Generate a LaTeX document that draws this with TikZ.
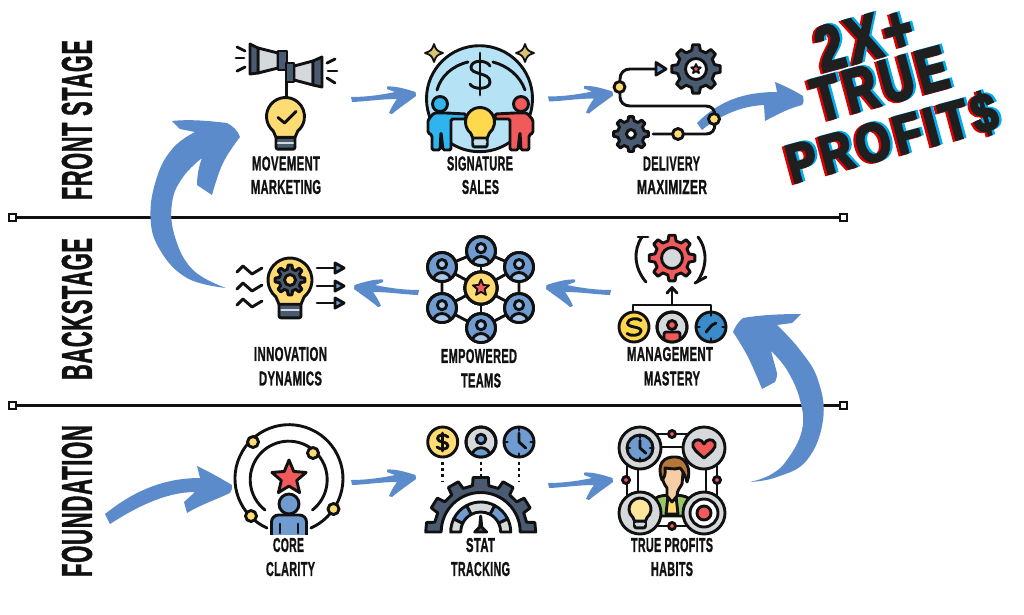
\documentclass[tikz,border=0pt]{standalone}
\usepackage{fontspec}
\usepackage{graphicx}
\setmainfont{Liberation Sans}
\newfontfamily\heavy[FakeBold=5,LetterSpace=10]{Liberation Sans Bold}
\newfontfamily\labf[FakeBold=1.5,LetterSpace=3]{Liberation Sans Bold}
\definecolor{inkc}{HTML}{111111}
\definecolor{brushc}{HTML}{5B8BCB}
\definecolor{yel}{HTML}{FFDC73}
\definecolor{yelb}{HTML}{FFD84D}
\definecolor{blu}{HTML}{6F9BD1}
\definecolor{lblu}{HTML}{A9C8EA}
\definecolor{slate}{HTML}{4A5A70}
\definecolor{gry}{HTML}{D5D9DC}
\definecolor{rd}{HTML}{F05A5A}
\definecolor{sky}{HTML}{B6E2F6}
\definecolor{sblue}{HTML}{2FB4EF}
\definecolor{dblue}{HTML}{3A8BC9}
\definecolor{brn}{HTML}{B5763A}
\definecolor{peach}{HTML}{F7CDA6}
\definecolor{grn}{HTML}{9CC56A}
\tikzset{
  ink/.style={draw=inkc,line width=2.9pt,line join=round,line cap=round},
  thinink/.style={draw=inkc,line width=1.8pt,line join=round,line cap=round},
  brush/.style={fill=brushc,draw=none},
  lab/.style={inner sep=0pt,outer sep=0pt,text=inkc},
  sq/.style={draw=inkc,fill=white,line width=2pt,minimum size=7pt,inner sep=0pt,rectangle},
  rule/.style={draw=inkc,line width=2.2pt},
}
\newcommand\lbl[5]{\node[lab] (#1) at (#2,#3) {\resizebox{#4pt}{14pt}{\labf #5}};}
\newcommand\side[4]{\node[lab,rotate=90] (#1) at (77,#2) {\resizebox{#3pt}{30pt}{\labf #4}};}
\newcommand\bigt[6]{%
  \node[lab,rotate=15,text=red!85!black] (#1r) at (#2-2.5,#3+1) {\resizebox{#4pt}{#5pt}{\heavy #6}};
  \node[lab,rotate=15,text=cyan] (#1c) at (#2+2.5,#3-1) {\resizebox{#4pt}{#5pt}{\heavy #6}};
  \node[lab,rotate=15,text=black!88] (#1) at (#2,#3) {\resizebox{#4pt}{#5pt}{\heavy #6}};}
\newcommand\smallarrow[4]{%
  \begin{scope}[shift={(#2,#3)},xscale=#4]
    \coordinate (#1s) at (0,-1);
    \coordinate (#1t) at (64.5,-6);
    \fill[brush] (#1s) .. controls (15,-1) and (30,-3) .. (44,-6) -- (36,-9) -- (36,-11.5)
      .. controls (45,-12) and (55,-9) .. (#1t) -- (65,-2) .. controls (57,4) and (48,10) .. (41,16)
      -- (38,15) .. controls (40,10) and (43,5) .. (46,1) .. controls (30,1) and (15,3.5) .. (1,4) -- cycle;
  \end{scope}}
\newcommand\cog[6]{%
  \begin{scope}[shift={(#1,#2)}]
    \draw[ink,fill=#5] (-#6*.3:#4) \foreach \a in {0,#6,...,359} { -- (\a-#6*.3:#4) -- (\a-#6*.17:#3) -- (\a+#6*.17:#3) -- (\a+#6*.3:#4) } -- cycle;
  \end{scope}}
\newcommand\starp[5][ink]{%
  \begin{scope}[shift={(#2,#3)}]
    \draw[#1,fill=#5] (-90:#4) -- (-54:{#4*.45}) -- (-18:#4) -- (18:{#4*.45}) -- (54:#4) -- (90:{#4*.45}) -- (126:#4) -- (162:{#4*.45}) -- (198:#4) -- (234:{#4*.45}) -- cycle;
  \end{scope}}
\newcommand\bulb[5]{%
  \begin{scope}[shift={(#1,#2)}]
    \draw[ink,fill=#5,rounded corners=2pt] ({-#3*.5},{#3*1.05}) rectangle ({#3*.5},{#3*1.72});
    \draw[thinink,draw=gry] ({-#3*.4},{#3*1.38}) -- ({#3*.4},{#3*1.38});
    \draw[ink,fill=#4] (130:#3) arc[start angle=130,end angle=410,radius=#3] -- ({#3*.5},{#3*1.1}) -- ({-#3*.5},{#3*1.1}) -- cycle;
  \end{scope}}
\newcommand\bust[5]{%
  \begin{scope}[shift={(#1,#2)}]
    \draw[ink,fill=#4] (0,0) circle[radius=#3];
    \begin{scope}
      \clip (0,0) circle[radius=#3];
      \draw[ink,fill=#5] (0,{#3*.98}) ellipse[x radius={#3*.62},y radius={#3*.6}];
    \end{scope}
    \draw[ink,fill=#5] (0,{-#3*.2}) circle[radius={#3*.32}];
    \draw[ink] (0,0) circle[radius=#3];
  \end{scope}}
\newcommand\clockc[4]{%
  \begin{scope}[shift={(#1,#2)}]
    \draw[ink,fill=#4] (0,0) circle[radius=#3];
    \foreach \a in {0,90,180,270} \draw[ink] (\a:#3) -- (\a:{#3*.78});
    \draw[ink] (0,{-#3*.6}) -- (0,0) -- ({#3*.45},{#3*.4});
  \end{scope}}
\begin{document}
\begin{tikzpicture}[x=1pt,y=-1pt]
\useasboundingbox (0,0) rectangle (1024,614);
\fill[white] (0,0) rectangle (1024,614);
% rules
\node[sq] (ra) at (12,217.5) {};
\node[sq] (rb) at (843,217.5) {};
\node[sq] (rc) at (12,405.5) {};
\node[sq] (rd) at (843,405.5) {};
\draw[rule] (ra) -- (rb);
\draw[rule] (rc) -- (rd);
% side labels
\side{fs}{120}{160}{FRONT STAGE}
\side{bs}{309}{142}{BACKSTAGE}
\side{fd}{501}{152}{FOUNDATION}
% big arrows
\coordinate (bl1s) at (226,288);
\coordinate (bl1t) at (240,137);
\fill[brush] plot[smooth,tension=.7] coordinates {(bl1s) (187,278) (160,250) (150.5,217) (157,177) (173,148) (195,132)}
  -- (180,129) -- (172,121) .. controls (190,119) and (210,121) .. (227,123) .. controls (233,126) and (238,131) .. (bl1t)
  -- plot[smooth,tension=.7] coordinates {(bl1t) (223,163) (212,195)}
  -- (197,185) .. controls (197,175) and (199,166) .. (202,158)
  -- plot[smooth,tension=.7] coordinates {(202,158) (183,177) (172,203) (175,237) (193,270) (bl1s)} -- cycle;
\coordinate (bl2s) at (750,482);
\coordinate (bl2t) at (733,332);
\fill[brush] plot[smooth,tension=.7] coordinates {(bl2s) (777,477) (807,460) (823,420) (818,380) (800,350) (777,325)}
  -- (792,323) -- (801,314) .. controls (780,314) and (760,315) .. (743,318) .. controls (738,322) and (735,327) .. (bl2t)
  -- plot[smooth,tension=.7] coordinates {(bl2t) (748,357) (762,389)}
  -- (775,382) .. controls (777,378) and (777,375) .. (777,373) -- (771,351)
  -- plot[smooth,tension=.7] coordinates {(771,351) (787,370) (800,400) (802,430) (787,460) (770,475) (bl2s)} -- cycle;
\coordinate (bl3s) at (105,514);
\coordinate (bl3t) at (232,485);
\fill[brush] (bl3s) -- (110,524) .. controls (135,508) and (165,492) .. (195,492) -- (184,502) -- (187,513)
  .. controls (200,505) and (215,500) .. (230,493) .. controls (232,491) and (232,488) .. (bl3t)
  .. controls (220,478) and (208,471) .. (197,466) -- (200,478) .. controls (165,478) and (135,490) .. (bl3s) -- cycle;
\coordinate (bl4s) at (697,123);
\coordinate (bl4t) at (803,96);
\fill[brush] (bl4s) -- (702,130) .. controls (720,115) and (742,106) .. (764,105) -- (765,121)
  .. controls (778,114) and (790,108) .. (802,105) .. controls (804,103) and (804,99) .. (bl4t)
  .. controls (795,91) and (785,86) .. (775,82) -- (777,92) .. controls (745,92) and (720,100) .. (bl4s) -- cycle;
\smallarrow{sa}{351}{98}{1}
\smallarrow{sb}{548}{97.5}{1}
\smallarrow{sc}{351}{481}{1}
\smallarrow{sd}{548}{484}{1}
\smallarrow{se}{419}{291}{-1}
\smallarrow{sf}{611}{291}{-1}
% ------------- Movement marketing icon
\draw[ink] (286.5,80) -- (286.5,98);
\bulb{285.5}{116.5}{19}{yel}{slate}
\draw[ink] (278,117.5) -- (284.5,123) -- (296,111.5);
\draw[ink,fill=gry] (258,48) -- (278,53) -- (278,68) -- (258,73) -- cycle;
\draw[ink,fill=slate] (250,44) -- (258,48) -- (258,73) -- (250,74) -- cycle;
\draw[ink,fill=slate] (278,51) rectangle (287,70);
\draw[ink,fill=gry] (294,66) -- (313,61) -- (313,85) -- (294,80) -- cycle;
\draw[ink,fill=slate] (286,63) rectangle (294,82);
\draw[ink,fill=slate] (313,61) -- (322,57) -- (322,87) -- (313,85) -- cycle;
\foreach \a/\b/\c/\d in {237/47/245/51,236/58/244/58,237/71/245/67,327/63/335/59,328/71/337/71,327/78/335/83}
  \draw[ink] (\a,\b) -- (\c,\d);
% ------------- Signature sales icon
\draw[ink,fill=sky] (479.5,98.7) circle[radius=53];
\draw[ink] (437,90) .. controls (441,76) and (452,66) .. (468,62);
\draw[ink] (525,90) .. controls (520,76) and (508,66) .. (493,62);
\draw[ink] (480,53) -- (480,95);
\draw[ink] (490,66) .. controls (487,60) and (472,59) .. (471,67) .. controls (470,75) and (490,72) .. (490,82) .. controls (490,90) and (473,90) .. (470,84);
\draw[ink,fill=sblue,rounded corners=1.5pt] (434,113) -- (447,113) -- (466,114) -- (466,119) -- (451,119) -- (451,150) -- (443,150) -- (441,132) -- (440,150) -- (432,150) -- (432,135) -- (428,133) -- (428,120) -- cycle;
\draw[ink,fill=sblue] (440,104) circle[radius=7.5];
\begin{scope}[shift={(961,0)},xscale=-1]
  \draw[ink,fill=rd,rounded corners=1.5pt] (434,113) -- (447,113) -- (466,114) -- (466,119) -- (451,119) -- (451,150) -- (443,150) -- (441,132) -- (440,150) -- (432,150) -- (432,135) -- (428,133) -- (428,120) -- cycle;
  \draw[ink,fill=rd] (440,104) circle[radius=7.5];
\end{scope}
\bulb{480}{122}{14.5}{yelb}{sky}
\foreach \a/\b in {434/53,525/53}
  \draw[thinink,fill=yel!80!slate] (\a,\b-9) .. controls (\a+2,\b-3) and (\a+3,\b-2) .. (\a+9,\b) .. controls (\a+3,\b+2) and (\a+2,\b+3) .. (\a,\b+9) .. controls (\a-2,\b+3) and (\a-3,\b+2) .. (\a-9,\b) .. controls (\a-3,\b-2) and (\a-2,\b-3) .. (\a,\b-9);
% ------------- Delivery maximizer icon
\draw[ink] (658,69) -- (630,69) .. controls (624,69) and (620,73) .. (620,79) -- (620,97) .. controls (620,102) and (624,106) .. (630,106) -- (706,106) .. controls (712,106) and (715,110) .. (715,116) -- (715,124) .. controls (715,130) and (712,134) .. (706,134) -- (653,134);
\draw[ink,fill=blu] (656,62.5) -- (666,69) -- (656,75) -- cycle;
\foreach \a/\b in {619.5/87,714/119,678/134}
  \draw[ink,fill=yel] (\a,\b) circle[radius=5.5];
\cog{696}{69}{24.5}{19}{slate}{45}
\draw[ink,fill=white] (696,69) circle[radius=10.5];
\starp[thinink]{696}{69}{5}{rd}
\cog{631}{134}{17.5}{13.5}{slate}{45}
\draw[ink,fill=white] (631,134) circle[radius=4.5];
% ------------- Innovation dynamics icon
\foreach \d in {0,17,33}
  \draw[ink] (237,272+\d) -- (243,266+\d) -- (252,274+\d) -- (262,268+\d);
\bulb{290}{280}{22}{yel}{slate}
\cog{290}{280}{15}{11}{slate}{45}
\draw[ink,fill=yel] (290,280) circle[radius=5.5];
\foreach \d in {268,286,303} {
  \draw[ink] (317,\d) -- (334,\d);
  \draw[ink,fill=blu] (335,\d-5) -- (344,\d) -- (335,\d+5) -- cycle;
}
% ------------- Empowered teams icon
\foreach \a/\b in {481/251,519/267,519/308,481/328,442/308,442/267}
  \draw[ink] (481,288) -- (\a,\b);
\draw[ink] (481,251) -- (519,267) -- (519,308) -- (481,328) -- (442,308) -- (442,267) -- cycle;
\foreach \a/\b in {481/251,519/267,519/308,481/328,442/308,442/267}
  \bust{\a}{\b}{14.5}{blu}{lblu}
\draw[ink,fill=yel] (481,288) circle[radius=16];
\starp[thinink]{481}{288}{8.5}{rd}
% ------------- Management mastery icon
\cog{672}{258}{23}{17.5}{rd}{45}
\draw[ink,fill=gry] (672,258) circle[radius=10.5];
\draw[ink] (642,237) .. controls (633,250) and (634,268) .. (646,282);
\draw[ink] (698,237) .. controls (708,250) and (707,268) .. (697,282);
\draw[ink] (638,237) -- (648,237);
\draw[ink] (695,283) -- (706,277);
\draw[ink] (672,305) -- (672,288);
\draw[ink] (667,293) -- (672,287.5) -- (677,293);
\draw[ink] (633,312) -- (633,305) -- (711,305) -- (711,312);
\draw[ink,fill=yelb] (634,327) circle[radius=15];
\draw[ink] (641,320.5) .. controls (638,317.5) and (628,318) .. (627.5,323) .. controls (627.5,328) and (641,326) .. (641,331) .. controls (641,336) and (630,336.5) .. (627,333.5);
\draw[ink,fill=gry] (672,327) circle[radius=15];
\begin{scope}
  \clip (672,327) circle[radius=15];
  \draw[ink,fill=rd,rounded corners=2pt] (664,345) -- (664,332) -- (680,332) -- (680,345) -- cycle;
\end{scope}
\draw[ink,fill=rd] (672,325) circle[radius=4.5];
\draw[ink] (672,327) circle[radius=15];
\draw[ink,fill=dblue] (711,327) circle[radius=15];
\foreach \a in {0,90,180,270} \draw[ink] (711,327) ++(\a:15) -- ++(\a:-3.5);
\draw[ink] (706,332) -- (712,325) -- (716,323);
% ------------- Core clarity icon
\draw[ink] (267,528) arc[start angle=114,end angle=426,radius=54];
\draw[ink] (265,510) arc[start angle=128,end angle=412,radius=38.5];
\foreach \a/\b in {253/442,333.5/509,251/516,313/453}
  \draw[ink,fill=yel] (\a,\b) circle[radius=5.5];
\starp{289}{478}{18}{rd}
\begin{scope}
  \clip (260,500) rectangle (320,534);
  \draw[ink,fill=blu,rounded corners=7pt] (271.5,545) -- (271.5,515) -- (306.5,515) -- (306.5,545) -- cycle;
\end{scope}
\draw[ink] (280,524) -- (280,533);
\draw[ink] (298,524) -- (298,533);
\draw[ink,fill=blu] (289,504) circle[radius=10];
% ------------- Stat tracking icon
\draw[ink,fill=yel] (442.7,442) circle[radius=15];
\draw[ink] (442.7,433) -- (442.7,451);
\draw[ink] (448,437) .. controls (445,434) and (437.5,434) .. (437.5,438.5) .. controls (437.5,443) and (448,441) .. (448,445.5) .. controls (448,450) and (440,450) .. (437,447);
\bust{481}{442}{15}{gry}{blu}
\clockc{519}{442}{15}{blu}
\foreach \a in {442.7,481,519}
  \draw[draw=inkc,line width=2.8pt,dash pattern=on 3pt off 3.2pt] (\a,462) -- (\a,481);
\begin{scope}[shift={(480.7,532)}]
  \draw[ink,fill=slate] (-180:55) -- (-170:55)  -- (-168:47)
    -- (-156:47) -- (-154:55) -- (-142:55) -- (-140:47) -- (-128:47) -- (-126:55) -- (-114:55) -- (-112:47) -- (-100:47) -- (-98:55) -- (-82:55) -- (-80:47) -- (-68:47) -- (-66:55) -- (-54:55) -- (-52:47) -- (-40:47) -- (-38:55) -- (-26:55) -- (-24:47) -- (-12:47) -- (-10:55) -- (0:55) -- (0:39.5)
    arc[start angle=0,end angle=-180,radius=39.5] -- cycle;
  \foreach \s/\e/\c in {-180/-154/gry,-154/-118/blu,-118/-62/gry,-62/-26/blu,-26/0/gry}
    \draw[ink,fill=\c] (\s:30) arc[start angle=\s,end angle=\e,radius=30] -- (\e:20) arc[start angle=\e,end angle=\s,radius=20] -- cycle;
  \draw[ink,fill=slate] (-6,0) -- (-1,-5) -- (0,-16) -- (1,-5) -- (6,0) -- cycle;
\end{scope}
% ------------- True profits icon
\draw[ink] (640,434) -- (704,434);
\draw[ink] (640,447) -- (704,447);
\draw[ink] (640,526) -- (704,526);
\draw[ink] (640,513) -- (704,513);
\draw[ink] (627,448) -- (627,513);
\draw[ink] (638,448) -- (638,513);
\draw[ink] (717,448) -- (717,513);
\draw[ink] (706,448) -- (706,513);
\fill[white] (645,452) rectangle (699,509);
% person
\draw[ink,fill=grn] (656,516) -- (656,498) .. controls (660,494) and (684,494) .. (688,498) -- (688,516) -- cycle;
\draw[ink,fill=yel] (668,496) -- (676,496) -- (678,514) -- (666,514) -- cycle;
\draw[ink,fill=peach] (662,462) -- (684,462) -- (682,484) .. controls (680,488) and (677,490) .. (677,496) -- (672,502) -- (667,496) -- (667,488) .. controls (664,484) and (662,480) .. (662,474) -- cycle;
\draw[ink,fill=brn] (662,480) .. controls (656,464) and (664,456) .. (676,457) .. controls (686,457) and (692,470) .. (687,482) .. controls (685,474) and (682,470) .. (680,468) .. controls (674,470) and (668,468) .. (665,468) .. controls (666,474) and (664,478) .. (662,480) -- cycle;
\foreach \a/\b in {640/448,704/448,640/513,704/513}
  \draw[ink,fill=gry] (\a,\b) circle[radius=21];
\clockc{640}{448}{13}{blu}
\begin{scope}[shift={(704,448)}]
  \draw[ink,fill=rd] (0,10) .. controls (-6,5) and (-13,0) .. (-11,-5) .. controls (-9,-10) and (-2,-9) .. (0,-4) .. controls (2,-9) and (9,-10) .. (11,-5) .. controls (13,0) and (6,5) .. (0,10) -- cycle;
\end{scope}
\bulb{640}{509}{11}{yel!70!white}{gry}
\draw[ink,fill=white] (704,513) circle[radius=14];
\draw[ink,fill=rd] (704,513) circle[radius=7];
\foreach \a/\b in {672/434,626/480,717/480,672/526}
  \draw[ink,fill=rd] (\a,\b) circle[radius=3.5];
% ------------- labels
\lbl{l1a}{286}{163.5}{68}{MOVEMENT}
\lbl{l1b}{286}{187}{70}{MARKETING}
\lbl{l2a}{480}{163.5}{66}{SIGNATURE}
\lbl{l2b}{480.5}{187}{37}{SALES}
\lbl{l3a}{671.5}{163.5}{57}{DELIVERY}
\lbl{l3b}{672}{187}{70}{MAXIMIZER}
\lbl{l4a}{290.5}{354}{73}{INNOVATION}
\lbl{l4b}{290.5}{378.5}{63}{DYNAMICS}
\lbl{l5a}{479}{356}{76}{EMPOWERED}
\lbl{l5b}{481}{380.5}{40}{TEAMS}
\lbl{l6a}{670}{354}{86}{MANAGEMENT}
\lbl{l6b}{672}{378.5}{56}{MASTERY}
\lbl{l7a}{288.5}{545}{31}{CORE}
\lbl{l7b}{290.5}{569}{49}{CLARITY}
\lbl{l8a}{480.5}{545}{29}{STAT}
\lbl{l8b}{480.5}{569}{59}{TRACKING}
\lbl{l9a}{672}{545}{82}{TRUE PROFITS}
\lbl{l9b}{672}{569}{42}{HABITS}
% ------------- headline
\bigt{ha}{864}{38}{98}{44}{2X+}
\bigt{hb}{880}{84}{138}{42}{TRUE}
\bigt{hc}{892}{138}{216}{40}{PROFIT\$}
\end{tikzpicture}
\end{document}
